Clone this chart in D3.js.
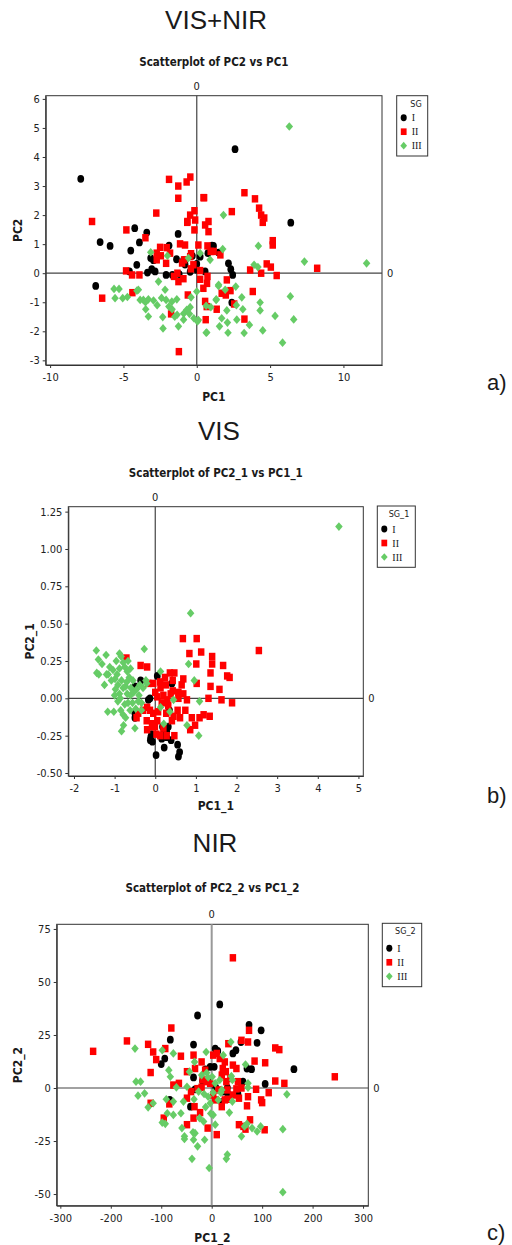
<!DOCTYPE html>
<html>
<head>
<meta charset="utf-8">
<script src="https://cdn.jsdelivr.net/npm/d3@7"></script>
<style>
  body { margin: 0; background: #fff; }
  text { fill: #1a1a1a; }
  .tick text { font-family: "Liberation Sans Narrow", "DejaVu Sans Condensed", sans-serif; font-size: 11px; fill: #222; }
</style>
</head>
<body>
<svg id="fig" width="512" height="1245"></svg>
<script>
/*
Three PCA score plots (VIS+NIR, VIS, NIR) coloured by SG group
*/

// Group names shown in the legends
const groups = ['I', 'II', 'III'];

// a) VIS+NIR : [PC1, PC2]
const aBlack = [[-7.91,3.25],[-6.89,-0.44],[-6.59,1.07],[-5.91,0.94],[-4.23,1.55],[-3.41,1.4],[-3.91,1.06],[-4.5,0.78],
  [-4.09,0.29],[-4.59,0.06],[-3.36,0.02],[-3.07,0.14],[-2.84,0.06],[-3.14,0.52],[-2.95,0.45],[-1.89,0.95],[-1.27,1.35],
  [-2.09,-0.06],[-1.66,-0.06],[-1.2,-0.03],[-1.38,0.48],[-0.9,0.45],[-0.8,0.3],[0,0.32],[0.23,0.57],[-0.45,0.05],[0,0.12],
  [0.57,0.06],[1.14,0.94],[1.48,0.71],[0.76,0.69],[2.16,0.34],[2.32,0.14],[2.45,-0.06],[2.39,-1.01],[2.61,4.27],[6.41,1.74],
  [1.04,0.95],[-0.3,0.6]];
const aRed = [[-7.14,1.78],[-6.45,-0.86],[-4.82,0.08],[-4.41,-0.06],[-3.91,-0.06],[-4.39,-0.67],[-4.8,1.49],[-3.5,1.22],
  [-2.76,2.07],[-1.89,3.23],[-1.26,3.0],[-1.26,2.58],[-0.69,3.14],[-0.44,3.31],[-0.16,2.15],[0.46,2.6],[-0.45,2.0],[-0.64,1.78],
  [-0.11,1.83],[0.57,1.66],[0.8,1.78],[0.8,1.43],[-0.16,1.49],[0.5,2.6],[-2.5,0.89],[-2.05,0.88],[-2.73,0.69],[-2.45,0.6],
  [-2.73,0.46],[-2.09,0.34],[-1.82,0.69],[-1.14,1.01],[-0.8,0.97],[-0.39,0.67],[0.11,0.97],[0.73,0.94],[0.95,0.75],[-0.45,0.57],
  [-0.23,0.29],[-0.86,0.46],[-1.0,0.35],[0.23,0.09],[-0.4,0.15],[0.73,-0.11],[-1.32,0],[-1.25,-0.29],[-1.55,-0.11],[-0.91,-0.19],
  [-0.61,-0.75],[0.23,-0.21],[0.45,-0.52],[0.7,-0.35],[2.05,-0.23],[1.7,-0.69],[1.98,-0.75],[2.3,-0.6],[2.55,-1.06],[0.68,-1.15],
  [0.57,-0.97],[1.36,-1.24],[0.61,-1.6],[3.25,-1.58],[3.82,-0.63],[4.39,2.0],[4.6,1.9],[5.18,1.12],[5.18,0.97],[3.64,0.11],
  [4.39,0],[4.77,0.32],[5.05,0.21],[5.45,-0.08],[2.39,2.12],[3.25,2.77],[3.97,2.56],[4.25,2.24],[4.5,1.75],[-1.75,-1.4],
  [-1.22,-2.7],[8.21,0.17],[1.61,0.63],[-0.65,1.75],[1.15,0.75]];
const aGreen = [[-5.64,-0.54],[-5.3,-0.54],[-5.57,-0.86],[-5.05,-0.86],[-4.73,-0.82],[-3.98,-0.57],[-3.86,-0.92],[-3.64,-0.92],
  [-3.3,-0.9],[-2.95,-0.94],[-2.61,-0.29],[-2.16,-0.57],[-2.09,-0.92],[-1.7,-0.98],[-1.36,-0.9],[-3.3,-1.49],[-3.48,-1.24],
  [-2.32,-1.51],[-2.3,-1.9],[-1.25,-1.83],[-1.9,-1.15],[-1.68,-1.24],[-1.34,-1.43],[-0.89,-1.39],[-0.68,-1.26],[-0.45,-1.17],
  [0,-0.63],[-0.39,-0.83],[0.05,-1.66],[0.68,-2.04],[0.64,-1.12],[1.32,-0.92],[1.48,-0.44],[1.94,-0.57],[2.66,-0.46],[3.07,-0.83],
  [3.14,-1.24],[2.7,-1.1],[2.05,-1.28],[1.7,-1.55],[2.09,-1.7],[2.73,-1.6],[1.55,-1.83],[3.23,-2.06],[3.59,-1.78],[4.32,-1.28],
  [4.32,-1.01],[4.5,-1.97],[5.34,-1.47],[6.61,-1.59],[6.38,-0.8],[5.85,-2.39],[4.2,0.94],[3.91,0.29],[4.17,0.21],[1.82,2.0],
  [1.77,0.83],[0.23,0.69],[-0.57,0.52],[0.91,0.46],[-2.0,0.6],[-3.14,0.72],[6.31,5.05],[7.34,0.4],[11.58,0.34],[0.96,-1.17],
  [0.11,-1.61],[-0.2,-1.55],[-0.5,-1.4],[-0.9,-1.6],[-1.5,-1.5],[-2.7,-1.1],[-2.4,-0.85],[-3.5,-1.0],[1.49,-0.4],[1.33,-0.9],
  [2.13,-2.05],[0.64,-2.05],[-4.08,-0.6]];
const aXTicks = [-10, -5, 0, 5, 10];
const aYTicks = [-3, -2, -1, 0, 1, 2, 3, 4, 5, 6];

// b) VIS : [PC1_1, PC2_1]
const bBlack = [[0.05,0.15],[-0.36,0.12],[-0.5,0.08],[-0.13,0],[-0.17,-0.01],[-0.5,-0.13],[-0.5,-0.1],[-0.11,-0.26],
  [-0.07,-0.29],[-0.09,-0.24],[0.02,-0.38],[0.22,-0.33],[0.16,-0.27],[0.32,-0.19],[0.28,-0.22],[0.39,-0.28],[0.55,-0.31],
  [0.6,-0.36],[0.57,-0.39],[0.35,-0.08],[0.41,0.1],[0.28,-0.26],[0.21,-0.23],[0.18,-0.19],[-0.12,-0.28]];
const bRed = [[-0.71,0.27],[-0.36,0.22],[-0.2,0.21],[-0.17,0.1],[0.68,0.4],[0.84,0.3],[1.13,0.31],[1.01,0.23],[1.4,0.28],
  [1.4,0.23],[1.36,0.17],[1.67,0.22],[1.77,0.15],[1.83,0.14],[2.55,0.32],[1.36,0.08],[1.58,0.06],[1.63,-0.01],[1.89,-0.03],
  [1.31,0.0],[1.34,-0.12],[1.19,-0.11],[1.09,-0.13],[0.98,-0.18],[0.86,-0.21],[0.9,-0.13],[1.02,0.1],[0.47,0.17],[0.43,0.12],
  [0.69,0.13],[0.65,0.09],[0.57,0.04],[0.43,0.05],[0.69,0.03],[0.78,-0.01],[0.74,-0.08],[0.55,-0.08],[0.45,-0.12],[0.61,-0.13],
  [0.47,-0.25],[0.28,-0.25],[0.2,-0.2],[0.12,-0.25],[0.03,-0.24],[-0.01,-0.19],[-0.07,-0.17],[-0.13,-0.08],[-0.2,-0.06],
  [-0.3,-0.08],[-0.42,-0.1],[-0.46,-0.13],[-0.21,-0.15],[-0.05,-0.1],[0.07,-0.09],[0.16,-0.03],[0.05,0.01],[0.2,0.02],
  [0.13,0.07],[0.26,0.09],[0.38,0.03],[0.3,-0.01],[0.0,0.04],[-0.05,0.1],[0.12,0.11],[0.24,0.14],[0.36,0.17],[0.27,-0.1],
  [0.41,-0.15],[0.05,-0.15],[0.32,-0.05],[0.57,0.0],[-0.2,-0.21],[-0.08,-0.19],[1.02,0.4]];
const bGreen = [[-1.45,0.32],[-1.21,0.29],[-1.31,0.23],[-1.44,0.17],[-1.39,0.16],[-1.25,0.09],[-1.12,0.21],[-1.16,0.16],
  [-1.08,0.12],[-0.99,0.13],[-0.96,0.25],[-0.88,0.3],[-0.84,0.28],[-0.88,0.2],[-0.94,0.16],[-0.79,0.24],[-0.75,0.21],
  [-0.69,0.18],[-0.67,0.25],[-0.61,0.2],[-0.64,0.14],[-0.83,0.12],[-0.92,0.09],[-0.98,0.06],[-0.88,0.03],[-0.79,0.07],
  [-0.73,0.08],[-0.69,0.03],[-0.6,0.07],[-0.61,0.02],[-0.53,0.04],[-0.46,0.06],[-0.38,0.09],[-0.3,0.07],[-0.23,0.12],
  [-0.42,-0.02],[-0.48,-0.07],[-0.34,-0.08],[-0.56,-0.03],[-0.67,-0.03],[-0.75,-0.04],[-0.92,-0.02],[-1.17,-0.09],[-1.02,-0.09],
  [-0.85,-0.08],[-0.79,-0.11],[-0.73,-0.13],[-0.83,-0.22],[-0.78,-0.18],[-0.5,-0.2],[-0.27,0.33],[0.13,0.18],[0.82,0.23],
  [0.96,0.12],[1.09,-0.02],[0.45,-0.01],[0.36,-0.09],[0.21,-0.17],[0.13,-0.06],[0.78,-0.18],[1.07,-0.25],[-0.21,0.1],
  [-0.34,-0.03],[-1.4,0.26],[-1.2,0.16],[-1.04,0.19],[0.87,0.57],[4.52,1.15],[-0.55,0.12],[-0.4,0.02],[-0.62,-0.08],
  [-0.7,0.11],[-1.0,0.02],[-0.86,0.0]];
const bXTicks = [-2, -1, 0, 1, 2, 3, 4, 5];
const bYTicks = [-0.5, -0.25, 0, 0.25, 0.5, 0.75, 1.0, 1.25];

// c) NIR : [PC1_2, PC2_2]
const cBlack = [[-28,34.2],[16,39.4],[-82,22.8],[-93,13.9],[-100,11.3],[-36,20.5],[7,18.6],[12,17.5],[42,16.3],[48,17.8],
  [58,21.7],[74,29.8],[98,27.2],[90,21.3],[79,8.9],[70,9.2],[163,8.9],[106,1.9],[62,3.0],[52,-2.8],[31,-2.2],[22,-1.7],
  [31,0.2],[20,-6.7],[5,10],[-3,10],[-12,8.8],[-7,4],[-18,3.3],[-33,-0.6],[-36,5],[-42,-8.8],[-83,-5.6],[8,0.3]];
const cRed = [[-235,17.3],[-168,22.2],[-126,20.6],[-116,17.0],[-110,13.4],[-121,7.3],[-121,-7.2],[-92,18.6],[-80,28.3],
  [-61,15.0],[-65,2.2],[-76,1.4],[-49,7.7],[-36,15.5],[-33,9.2],[-41,-1.7],[-34,-8.8],[-36,-14.2],[-49,-17.3],[-23,-11.6],
  [-8,-18.9],[-20,12.3],[-13,8.4],[-18,3.8],[-3,2.2],[3,15.5],[10,16.3],[16,13.9],[26,12.3],[22,9.2],[28,7.7],[20,6.1],
  [29,3.0],[37,4.5],[42,10.8],[49,9.2],[52,3.0],[33,20.9],[59,22.5],[72,21.7],[74,27.2],[85,12.7],[106,11.9],[126,18.9],
  [134,18.1],[126,3.3],[144,2.2],[244,5.3],[113,-2.2],[98,-5.6],[100,-6.9],[88,-0.6],[72,-4.1],[70,-8.4],[54,-17.3],[63,-18.1],
  [76,-15.0],[67,-19.4],[105,-19.7],[10,-22.0],[20,-8.8],[7,-5.6],[26,-5.6],[31,-5.3],[42,-3.3],[54,-4.8],[59,0],[49,-0.4],
  [31,-0.9],[13,-0.9],[-10,3],[-20,0.3],[3,-3.3],[-28,-0.3],[-49,-4.8],[-95,-14.2],[-84,-7.5],[42,61.4]];
const cGreen = [[-152,18.6],[-150,3.0],[-141,3.0],[-146,-3.6],[-133,-2.5],[-126,-9.1],[-116,-7.2],[-98,17.8],[-98,-16.3],
  [-92,-16.9],[-90,-5.3],[-88,-11.9],[-85,8.4],[-82,5.3],[-76,16.3],[-76,-6.4],[-76,-12.7],[-70,0.3],[-61,-11.9],[-56,-6.4],
  [-59,-18.9],[-54,-22.8],[-54,-24],[-49,0.6],[-44,7.7],[-37,-20.9],[-36,-24.4],[-33,-21.3],[-28,-27.5],[-39,-33.4],[-34,12.3],
  [-35,-5.3],[-24,-14.2],[-16,-15.8],[-14,-24.4],[-11,17.0],[-10,7.2],[-5,-37.7],[-7,-4.1],[-3,-7.2],[3,-12.7],[7,-17.3],
  [3,-2.2],[-15,-2.8],[-26,-1.7],[-20,6.1],[-7,5],[1,5.3],[7,2.2],[20,-0.9],[16,3.8],[23,15.5],[38,21.7],[41,3.8],[39,5.6],
  [41,-6.4],[35,-11.6],[13,-5.6],[31,-31.4],[29,-33.4],[59,-22.8],[65,-18.1],[70,-16.9],[80,-18.9],[90,-20.5],[97,-18.1],
  [72,2.2],[72,0.2],[67,11.1],[141,-19.4],[149,-3.0],[141,-49.1],[18,-2.2],[-12,-9],[-2,-12]];
const cXTicks = [-300, -200, -100, 0, 100, 200, 300];
const cYTicks = [-50, -25, 0, 25, 50, 75];

// Style of each group marker
const markerColor = ['#000000', '#ff0000', '#66cc66'];
const markerShape = [d3.symbolCircle, d3.symbolSquare, d3.symbolDiamond2];
const markerSize = [36, 42, 36];

const svg = d3.select('#fig');
const narrow = '"Liberation Sans Narrow", "DejaVu Sans Condensed", sans-serif';

// Function to draw one scatter panel
function drawPanel(p){

    const x = d3.scaleLinear().domain(p.xDomain).range([p.left, p.right]);
    const y = d3.scaleLinear().domain(p.yDomain).range([p.bottom, p.top]);
    const g = svg.append('g');

    // Big heading and plot title
    g.append('text').attr('x', p.headX).attr('y', p.headY).attr('text-anchor', 'middle')
        .style('font-family', '"Liberation Sans", Arial, sans-serif').style('font-size', '26px')
        .text(p.heading);
    g.append('text').attr('x', (p.left + p.right) / 2).attr('y', p.titleY).attr('text-anchor', 'middle')
        .style('font-family', narrow).style('font-weight', 'bold').style('font-size', '11.5px')
        .text(p.title);

    // Frame
    g.append('rect').attr('x', p.left).attr('y', p.top)
        .attr('width', p.right - p.left).attr('height', p.bottom - p.top)
        .attr('fill', 'none').attr('stroke', '#333').attr('stroke-width', 1);

    // Reference lines at zero
    g.append('line').attr('x1', x(0)).attr('x2', x(0)).attr('y1', p.top).attr('y2', p.bottom)
        .attr('stroke', p.vLine).attr('stroke-width', p.vWidth);
    g.append('line').attr('x1', p.left).attr('x2', p.right).attr('y1', y(0)).attr('y2', y(0))
        .attr('stroke', '#444').attr('stroke-width', 1.2);
    g.append('text').attr('x', x(0)).attr('y', p.top - 6).attr('text-anchor', 'middle')
        .style('font-family', narrow).style('font-size', '11px').text('0');
    g.append('text').attr('x', p.right + 5).attr('y', y(0) + 4)
        .style('font-family', narrow).style('font-size', '11px').text('0');

    // Axes
    const xAxis = g.append('g').attr('transform', `translate(0,${p.bottom})`)
        .call(d3.axisBottom(x).tickValues(p.xTicks).tickSize(3).tickSizeOuter(0)
            .tickFormat(d => String(d)));
    const yAxis = g.append('g').attr('transform', `translate(${p.left},0)`)
        .call(d3.axisLeft(y).tickValues(p.yTicks).tickSize(3).tickSizeOuter(0)
            .tickFormat(p.yFormat));
    [xAxis, yAxis].forEach(a => {
        a.select('.domain').attr('stroke', '#333');
        a.selectAll('.tick line').attr('stroke', '#333');
    });
    xAxis.selectAll('text').attr('dy', '0.9em');

    // Axis titles
    g.append('text').attr('x', (p.left + p.right) / 2).attr('y', p.xLabelY).attr('text-anchor', 'middle')
        .style('font-family', narrow).style('font-weight', 'bold').style('font-size', '12px')
        .text(p.xLabel);
    g.append('text').attr('transform', `translate(${p.yLabelX},${(p.top + p.bottom) / 2}) rotate(-90)`)
        .attr('text-anchor', 'middle')
        .style('font-family', narrow).style('font-weight', 'bold').style('font-size', '12px')
        .text(p.yLabel);

    // Points, group by group
    p.series.forEach((pts, i) => {
        g.append('g').selectAll('path').data(pts).join('path')
            .attr('d', d3.symbol(markerShape[i], markerSize[i]))
            .attr('transform', d => `translate(${x(d[0])},${y(d[1])}) scale(1,1.15)`)
            .attr('fill', markerColor[i]);
    });

    // Legend
    const L = p.legend;
    g.append('rect').attr('x', L.x).attr('y', L.y).attr('width', L.w).attr('height', L.h)
        .attr('fill', '#fff').attr('stroke', '#333');
    g.append('text').attr('x', L.x + L.w - 6).attr('y', L.y + 11).attr('text-anchor', 'end')
        .style('font-family', narrow).style('font-size', '9px').text(p.legendTitle);
    groups.forEach((name, i) => {
        const yy = L.y + L.row0 + i * 14;
        g.append('path').attr('d', d3.symbol(markerShape[i], markerSize[i] * 0.8))
            .attr('transform', `translate(${L.x + 7},${yy}) scale(1,1.15)`)
            .attr('fill', markerColor[i]);
        g.append('text').attr('x', L.x + 15).attr('y', yy + 3.5)
            .style('font-family', '"Liberation Serif", serif').style('font-size', '10px').text(name);
    });

    // Panel letter
    g.append('text').attr('x', 487).attr('y', p.letterY)
        .style('font-family', '"Liberation Sans", Arial, sans-serif').style('font-size', '22px')
        .text(p.letter);
}

drawPanel({
    heading: 'VIS+NIR', headX: 216, headY: 29, title: 'Scatterplot of PC2 vs PC1', titleY: 66,
    left: 45.7, right: 382, top: 95.7, bottom: 365,
    xDomain: [-10.3, 12.63], yDomain: [-3.16, 6.11], xTicks: aXTicks, yTicks: aYTicks,
    yFormat: d => String(d).replace('−', '-'),
    vLine: '#444', vWidth: 1.2,
    xLabel: 'PC1', xLabelY: 401, yLabel: 'PC2', yLabelX: 22,
    series: [aBlack, aRed, aGreen],
    legend: {x: 396.7, y: 95.7, w: 31, h: 60.3, row0: 22}, legendTitle: 'SG',
    letter: 'a)', letterY: 390
});

drawPanel({
    heading: 'VIS', headX: 219, headY: 440, title: 'Scatterplot of PC2_1 vs PC1_1', titleY: 477,
    left: 68.3, right: 363.3, top: 506.7, bottom: 776,
    xDomain: [-2.14, 5.12], yDomain: [-0.52, 1.283], xTicks: bXTicks, yTicks: bYTicks,
    yFormat: d => d.toFixed(2),
    vLine: '#444', vWidth: 1.2,
    xLabel: 'PC1_1', xLabelY: 810, yLabel: 'PC2_1', yLabelX: 34,
    series: [bBlack, bRed, bGreen],
    legend: {x: 377.3, y: 506, w: 38, h: 61.3, row0: 23}, legendTitle: 'SG_1',
    letter: 'b)', letterY: 803
});

drawPanel({
    heading: 'NIR', headX: 215, headY: 852, title: 'Scatterplot of PC2_2 vs PC1_2', titleY: 892,
    left: 56.7, right: 368.3, top: 924.3, bottom: 1205.7,
    xDomain: [-307.2, 310.4], yDomain: [-55.5, 77.2], xTicks: cXTicks, yTicks: cYTicks,
    yFormat: d => String(d).replace('−', '-'),
    vLine: '#999', vWidth: 2,
    xLabel: 'PC1_2', xLabelY: 1242, yLabel: 'PC2_2', yLabelX: 22,
    series: [cBlack, cRed, cGreen],
    legend: {x: 382.3, y: 923.3, w: 39.4, h: 63.4, row0: 25}, legendTitle: 'SG_2',
    letter: 'c)', letterY: 1240
});
</script>
</body>
</html>
